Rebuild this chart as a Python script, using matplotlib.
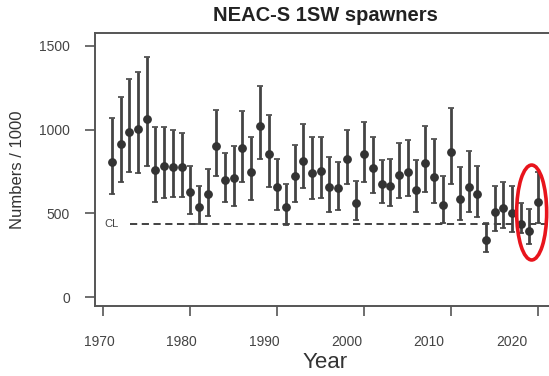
#!/usr/bin/env python3
"""NEAC-S 1SW spawners with CL reference line."""

import matplotlib
matplotlib.use('Agg')
import matplotlib.pyplot as plt
import matplotlib.transforms as mtransforms
from matplotlib.patches import Ellipse
import numpy as np

plt.rcParams['font.family'] = ['Liberation Sans', 'DejaVu Sans']

INK = '#333333'
AXIS = '#555555'

years = list(range(1971, 2021))
mid = [805, 912, 984, 1002, 1061, 759, 785, 779, 779, 625,
       540, 613, 902, 699, 709, 888, 749, 1023, 852, 659,
       540, 723, 812, 743, 753, 659, 649, 822, 564, 852,
       769, 675, 665, 729, 745, 639, 799, 719, 550, 864,
       585, 655, 613, 341, 506, 530, 500, 436, 396, 565]
upper = [1071, 1193, 1300, 1346, 1436, 1018, 1018, 998, 978, 783,
         665, 765, 1117, 858, 902, 1113, 958, 1260, 1087, 824,
         675, 908, 1031, 954, 954, 838, 805, 998, 693, 1047,
         954, 818, 822, 918, 938, 818, 1021, 942, 723, 1131,
         779, 872, 785, 440, 665, 689, 665, 560, 526, 749]
lower = [615, 689, 745, 739, 783, 565, 593, 599, 599, 494,
         434, 486, 725, 565, 546, 685, 579, 824, 655, 520,
         430, 565, 649, 583, 593, 510, 520, 673, 460, 689,
         619, 560, 546, 589, 605, 510, 629, 560, 440, 675,
         460, 506, 480, 271, 396, 410, 390, 380, 317, 440]
CL = 438

x_ticks = [1970, 1980, 1990, 2000, 2010, 2020]
y_ticks = [0, 500, 1000, 1500]

fig = plt.figure(figsize=(5.49, 3.76), dpi=100)
ax = fig.add_axes([0.173, 0.186, 0.839, 0.726])

mid_a = np.array(mid)
yerr = [mid_a - np.array(lower), np.array(upper) - mid_a]
ax.errorbar(years, mid, yerr=yerr, fmt='o', color=INK, ecolor='#444444',
            elinewidth=2, capsize=2, capthick=1.2, markersize=5.3, zorder=3)

ax.hlines(CL, 1973.1, 2022, colors=INK, linestyles=(0, (4, 2.5)), linewidth=1.3)
ax.text(1971.0, CL, 'CL', ha='center', va='center', fontsize=8, color='#444444')

ax.add_patch(Ellipse((2019.25, 505), 3.45, 567, fill=False, edgecolor='#e8141c',
                     linewidth=2.6, clip_on=False, zorder=5))

ax.set_xlim(1969.05, 2022)
ax.set_ylim(-54, 1577)
ax.set_xticks(x_ticks)
ax.set_yticks(y_ticks)
ax.tick_params(colors=AXIS, labelcolor='#444444', labelsize=10, length=7, width=1.2)
ax.tick_params(axis='x', pad=14)
ax.tick_params(axis='y', pad=11)
for sp in ax.spines.values():
    sp.set_color(AXIS)
    sp.set_linewidth(1.4)

# the year labels in the source sit a little left of their ticks, more so to the right
for i, lab in enumerate(ax.get_xticklabels()):
    shift = mtransforms.ScaledTranslation(-(4 + 4.5 * i) / 100, 0, fig.dpi_scale_trans)
    lab.set_transform(lab.get_transform() + shift)

ax.set_title('NEAC-S 1SW spawners', fontsize=14.5, fontweight='bold', color='#222222', pad=9)
ax.set_xlabel('Year', fontsize=16, color='#333333', labelpad=2)
ax.set_ylabel('Numbers / 1000', fontsize=12, color='#333333', labelpad=10)

fig.savefig('out.png', dpi=100)
